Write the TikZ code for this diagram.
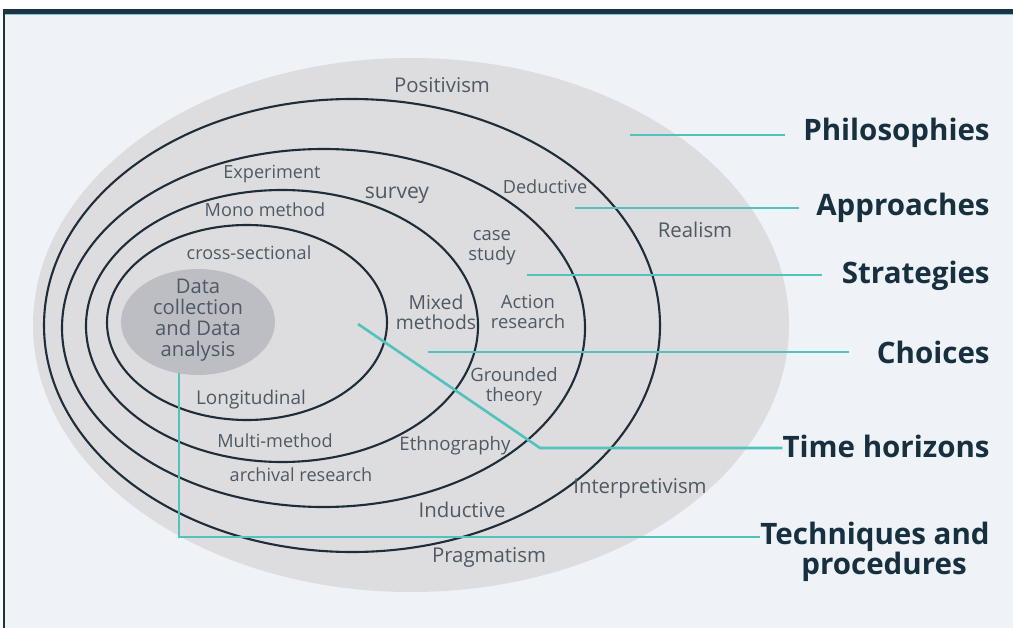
\documentclass[tikz,border=0pt]{standalone}
\usepackage{fontspec}
\setmainfont{Open Sans}
\definecolor{pagebg}{HTML}{EFF2F6}
\definecolor{framecol}{HTML}{1C3444}
\definecolor{framelight}{HTML}{8FC3DA}
\definecolor{outergray}{HTML}{DDDDDF}
\definecolor{innergray}{HTML}{BDBEC3}
\definecolor{ringcol}{HTML}{1E2D38}
\definecolor{tealc}{HTML}{52C2BC}
\definecolor{labelcol}{HTML}{4E5964}
\definecolor{headcol}{HTML}{17303F}
\begin{document}
\begin{tikzpicture}[x=0.02cm,y=-0.02cm,
  ring/.style={draw=ringcol,line width=1.2pt},
  lead/.style={draw=tealc,line width=1.5pt},
  lbl/.style={text=labelcol,font=\fontsize{10.3}{11.5}\selectfont,inner sep=0pt,align=center},
  big/.style={font=\fontsize{11.6}{13}\selectfont},
  head/.style={text=headcol,font=\fontsize{16.8}{17}\selectfont\bfseries,inner sep=0pt,anchor=east,align=center},
]
\useasboundingbox (0,0) rectangle (1013,628);
% page and frame
\fill[white] (0,0) rectangle (1013,628);
\fill[pagebg] (4,12) rectangle (1013,628);
\fill[framecol] (4,9) rectangle (1013,14);
\fill[framelight] (4,14) rectangle (1013,15.5);
\draw[framecol,line width=0.8pt] (4,9) -- (4,628);

% outer grey field
\fill[outergray] (411,325) ellipse [x radius=378, y radius=267];

% nested rings
\draw[ring] (352,325.5) ellipse [x radius=308, y radius=226.5];
\draw[ring] (323.5,328) ellipse [x radius=261.5, y radius=179];
\draw[ring] (282,326) ellipse [x radius=196, y radius=136];
\draw[ring] (247,322.5) ellipse [x radius=140, y radius=97.5];

% core
\fill[innergray] (198,322) ellipse [x radius=77, y radius=53];
\node[lbl,font=\fontsize{11.5}{12}\selectfont] (data) at (198,320) {Data\\collection\\and Data\\analysis};

% layer labels
\node[lbl,big] (positivism) at (442,85) {Positivism};
\node[lbl,big] (realism) at (695,230) {Realism};
\node[lbl,big] (interp) at (640,488) {Interpretivism};
\node[lbl,big] (pragma) at (489,557) {Pragmatism};
\node[lbl] (deduct) at (545,187) {Deductive};
\node[lbl,big] (induct) at (462,510) {Inductive};
\node[lbl] (experiment) at (272,174) {Experiment};
\node[lbl,font=\fontsize{12}{13}\selectfont] (survey) at (397,195) {survey};
\node[lbl,font=\fontsize{10.5}{11.5}\selectfont] (casestudy) at (492,248) {case\\study};
\node[lbl,font=\fontsize{10.5}{11.5}\selectfont] (action) at (528,312) {Action\\research};
\node[lbl,font=\fontsize{10.5}{11.5}\selectfont] (grounded) at (514,387) {Grounded\\theory};
\node[lbl,font=\fontsize{10.6}{11.5}\selectfont] (ethno) at (455,446) {Ethnography};
\node[lbl] (archival) at (301,475) {archival research};
\node[lbl] (mono) at (265,210) {Mono method};
\node[lbl,font=\fontsize{11}{11.5}\selectfont] (mixed) at (436,312) {Mixed\\methods};
\node[lbl] (multi) at (275,441) {Multi-method};
\node[lbl] (cross) at (249,253) {cross-sectional};
\node[lbl,font=\fontsize{10.8}{11.5}\selectfont] (longi) at (251,400) {Longitudinal};

% headings
\node[head] (philo) at (990,133) {Philosophies};
\node[head] (appr) at (990,208) {Approaches};
\node[head] (strat) at (990,276) {Strategies};
\node[head] (choice) at (990,352) {Choices};
\node[head] (timeh) at (990,446) {Time horizons};
\node[head] (tech) at (990,537) {Techniques and};
\node[head,anchor=center] (proc) at (884,567) {procedures};

% leader lines
\coordinate (phS) at (630,135);
\coordinate (apS) at (575,208);
\coordinate (stS) at (527,275);
\coordinate (chS) at (428,352);
\coordinate (thS) at (358,324);
\coordinate (thK) at (540,448);
\coordinate (tcS) at (179,373);
\draw[lead,shorten >=10.2pt] (phS) -- (phS -| philo.west);
\draw[lead,shorten >=9.6pt] (apS) -- (apS -| appr.west);
\draw[lead,shorten >=11.3pt] (stS) -- (stS -| strat.west);
\draw[lead,shorten >=15.9pt] (chS) -- (chS -| choice.west);
\draw[lead] (thS) -- (thK) -- (thK -| timeh.west);
\draw[lead] (tcS) |- (tech.west);
\end{tikzpicture}
\end{document}
